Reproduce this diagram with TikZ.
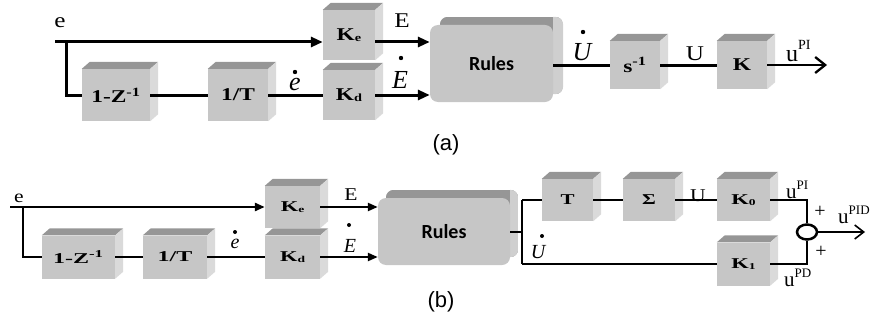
\documentclass[tikz,border=0pt]{standalone}
\usepackage{fontspec}
\usepackage{graphicx}
\setmainfont{Liberation Serif}
\newfontfamily\rulesfont{Carlito}
\newfontfamily\capfont{Liberation Sans}
\usetikzlibrary{arrows.meta,shapes.geometric,calc,backgrounds}
\definecolor{frontgray}{RGB}{198,198,198}
\definecolor{topgray}{RGB}{150,150,150}
\definecolor{sidegray}{RGB}{218,218,218}
\newcommand\sx[2]{\scalebox{#1}[1]{#2}}
\newcommand\cubefaces[3]{%
  \fill[topgray] (#1.north west) -- ++(#2,-#3) -- ($(#1.north east)+(#2,-#3)$) -- (#1.north east) -- cycle;
  \fill[sidegray] (#1.north east) -- ++(#2,-#3) -- ($(#1.south east)+(#2,-#3)$) -- (#1.south east) -- cycle;}
\newcommand\roundfaces[3]{%
  \begin{scope}
  \path[clip, rounded corners=8pt] ($(#1.south west)+(#2,-#3)$) rectangle ($(#1.north east)+(#2,-#3)$);
  \fill[topgray] ($(#1.south west)+(#2,-#3)$) rectangle ($(#1.north east)+(#2,-#3)$);
  \fill[sidegray!95!black] ($(#1.north east)+(0,-#3)$) -- ++(#2,-#3) -- ($(#1.south east)+(#2,-#3)$) -- (#1.south east) -- cycle;
  \end{scope}}
\tikzset{
  blk/.style={fill=frontgray, inner sep=0pt, font=\bfseries\fontsize{18}{18}\selectfont},
  blkb/.style={fill=frontgray, inner sep=0pt, font=\bfseries\fontsize{15}{15}\selectfont},
  rulesbox/.style={fill=frontgray, rounded corners=8pt, inner sep=0pt, font=\rulesfont\bfseries\fontsize{20}{20}\selectfont},
  lblA/.style={inner sep=0pt, anchor=base, font=\fontsize{21}{21}\selectfont},
  itA/.style={inner sep=0pt, anchor=base, font=\itshape\fontsize{26}{26}\selectfont},
  lblB/.style={inner sep=0pt, anchor=base, font=\fontsize{18}{18}\selectfont},
  itB/.style={inner sep=0pt, anchor=base, font=\itshape\fontsize{20}{20}\selectfont},
  ulbl/.style={inner sep=0pt, anchor=base west, font=\fontsize{21}{21}\selectfont},
  plus/.style={inner sep=0pt, font=\fontsize{20}{20}\selectfont},
  capt/.style={inner sep=0pt, font=\capfont\fontsize{22}{22}\selectfont},
  la/.style={line width=3pt},
  lb/.style={line width=2.2pt},
  tipA/.style={-{Triangle[length=12pt,width=10pt]}},
  tipB/.style={-{Triangle[length=10pt,width=8pt]}},
}
\begin{document}
\begin{tikzpicture}[x=1pt,y=-1pt]
\useasboundingbox (0,0) rectangle (877,329);
% ---------------- (a) ----------------
\node[blk, minimum width=68pt, minimum height=52pt] (Z1a) at (116,95) {\sx{1.3}{1-Z\textsuperscript{-1}}};
\node[blk, minimum width=60pt, minimum height=52pt] (T1a) at (238,95) {\sx{1.3}{1/T}};
\node[blk, minimum width=52pt, minimum height=50pt] (Kea) at (349,35) {\sx{1.3}{K\raisebox{-1pt}{\fontsize{11}{11}\selectfont e}}};
\node[blk, minimum width=52pt, minimum height=50pt] (Kda) at (349,95) {\sx{1.3}{K\raisebox{-1pt}{\fontsize{11}{11}\selectfont d}}};
\node[rulesbox, minimum width=123pt, minimum height=77pt] (Ra) at (491.5,63.5) {Rules};
\node[blk, minimum width=50pt, minimum height=48pt] (Sa) at (635,65) {\sx{1.3}{s\textsuperscript{-1}}};
\node[blk, minimum width=50pt, minimum height=48pt] (Ka) at (742,65) {\sx{1.3}{K}};
\coordinate (ea) at (55,42);
\coordinate (bra) at (66,42);
\coordinate (outa) at (827,65);
% ---------------- (b) ----------------
\node[blkb, minimum width=73pt, minimum height=43pt] (Z1b) at (78.5,257) {\sx{1.6}{1-Z\textsuperscript{-1}}};
\node[blkb, minimum width=64pt, minimum height=43pt] (T1b) at (175,257) {\sx{1.6}{1/T}};
\node[blkb, minimum width=55pt, minimum height=42pt] (Keb) at (292.5,207) {\sx{1.5}{K\raisebox{-1pt}{\fontsize{9}{9}\selectfont e}}};
\node[blkb, minimum width=55pt, minimum height=43pt] (Kdb) at (292.5,257) {\sx{1.5}{K\raisebox{-1pt}{\fontsize{9}{9}\selectfont d}}};
\node[rulesbox, minimum width=132pt, minimum height=67pt] (Rb) at (444,231.5) {Rules};
\node[blkb, minimum width=51pt, minimum height=42pt] (Tb) at (567.5,200) {\sx{1.4}{T}};
\node[blkb, minimum width=52pt, minimum height=42pt] (Sb) at (649,200) {\sx{1.4}{Σ}};
\node[blkb, minimum width=53pt, minimum height=42pt] (K0b) at (743.5,200) {\sx{1.5}{K\raisebox{-1pt}{\fontsize{9}{9}\selectfont 0}}};
\node[blkb, minimum width=53pt, minimum height=43pt] (K1b) at (743.5,264) {\sx{1.5}{K\raisebox{-1pt}{\fontsize{9}{9}\selectfont 1}}};
\node[draw, ellipse, line width=2.5pt, fill=white, minimum width=20pt, minimum height=15pt, inner sep=0pt] (sum) at (807,232) {};
\coordinate (eb) at (10,207);
\coordinate (brb) at (23,207);
\coordinate (jb) at (522,232);
\coordinate (outb) at (865,232);
% ---------------- 3D faces ----------------
\begin{scope}[on background layer]
\foreach \n in {Z1a,T1a,Kea,Kda,Sa,Ka}{\cubefaces{\n}{8}{7}}
\foreach \n in {Z1b,T1b,Keb,Kdb,Tb,Sb,K0b,K1b}{\cubefaces{\n}{8}{7}}
\roundfaces{Ra}{10}{8}
\roundfaces{Rb}{8}{8}
\end{scope}
% ---------------- connectors (a) ----------------
\draw[la, tipA] (ea) -- (ea -| Kea.west);
\draw[la] (bra) |- (Z1a.west);
\draw[la] (Z1a) -- (T1a);
\draw[la] (T1a) -- (Kda);
\draw[la, tipA] (Kea.east |- ea) -- (Ra.west |- ea);
\draw[la, tipA] (Kda) -- (Ra.west |- Kda);
\draw[la] (Ra.east |- Sa) -- (Sa);
\draw[la] (Sa) -- (Ka);
\draw[line width=2.3pt, -{Straight Barb[length=10pt,width=16pt]}] (Ka) -- (outa);
% ---------------- connectors (b) ----------------
\draw[line width=2.7pt, tipB] (eb) -- (eb -| Keb.west);
\draw[lb] (brb) |- (Z1b.west);
\draw[lb] (Z1b) -- (T1b);
\draw[lb] (T1b) -- (Kdb);
\draw[lb, tipB] (Keb) -- (Keb -| Rb.west);
\draw[lb, tipB] (Kdb) -- (Kdb -| Rb.west);
\draw[lb] (Rb.east |- jb) -- (jb);
\draw[lb] (jb |- Tb) -- (jb |- K1b);
\draw[lb] (jb |- Tb) -- (Tb);
\draw[lb] (jb |- K1b) -- (K1b);
\draw[lb] (Tb) -- (Sb);
\draw[lb] (Sb) -- (K0b);
\draw[lb] (K0b.east) -| (sum.north);
\draw[lb] (K1b.east) -| (sum.south);
\draw[line width=1.6pt, -{Straight Barb[length=9pt,width=14pt]}] (sum) -- (outb);
% ---------------- labels (a) ----------------
\node[lblA] (la_e) at (60,28) {\sx{1.2}{e}};
\node[lblA] (la_E) at (402,28) {\sx{1.2}{E}};
\node[itA] (la_Ed) at (400,88) {E};
\fill (401,58) circle (2.2pt);
\node[itA] (la_ed) at (295,90) {e};
\fill (295,72) circle (2.2pt);
\node[itA] (la_Ud) at (582,60) {U};
\fill (583,32) circle (2.2pt);
\node[lblA] (la_U) at (695,60) {\sx{1.2}{U}};
\node[inner sep=0pt, anchor=base west, font=\fontsize{24}{24}\selectfont] (la_u) at (786,62) {u\raisebox{13pt}{\fontsize{14}{14}\selectfont PI}};
\node[capt] (capa) at (446,145) {(a)};
% ---------------- labels (b) ----------------
\node[lblB] (lb_e) at (19,202) {\sx{1.2}{e}};
\node[lblB] (lb_E) at (351,200) {\sx{1.2}{E}};
\node[itB] (lb_Ed) at (350,252) {E};
\fill (349,225) circle (2pt);
\node[itB] (lb_ed) at (235,248) {e};
\fill (235,232) circle (2pt);
\node[lblB] (lb_U) at (698,201) {\sx{1.2}{U}};
\node[itB] (lb_Ud) at (538,258) {U};
\fill (542,236) circle (2pt);
\node[ulbl] (lb_upi) at (786,198) {u\raisebox{9pt}{\fontsize{13}{13}\selectfont PI}};
\node[ulbl] (lb_upid) at (838,223) {u\raisebox{9pt}{\fontsize{13}{13}\selectfont PID}};
\node[ulbl] (lb_upd) at (784,286) {u\raisebox{9pt}{\fontsize{13}{13}\selectfont PD}};
\node[plus] (plus1) at (820,212) {+};
\node[plus] (plus2) at (821,252) {+};
\node[capt] (capb) at (441,302) {(b)};
\end{tikzpicture}
\end{document}
